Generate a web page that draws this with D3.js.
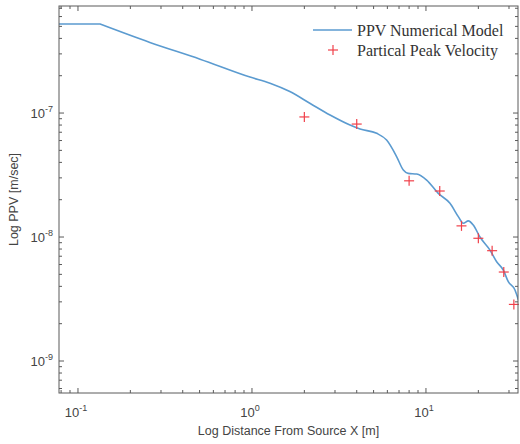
<!DOCTYPE html>
<html>
<head>
<meta charset="utf-8">
<script src="https://cdn.jsdelivr.net/npm/d3@7"></script>
<style>
  html, body { margin: 0; padding: 0; background: #fff; }
  svg { display: block; }
</style>
</head>
<body>
<svg id="chart" width="520" height="444"></svg>
<script>
// Numerical PPV model curve (distance in m, PPV in m/s)
const modelX = [0.0778, 0.134, 0.259, 0.503, 0.974, 1.27, 1.65, 2.15, 2.81, 3.66, 4.18, 5.21, 5.94, 6.79, 7.41, 7.91, 8.84, 10.09, 11.77, 13.74, 15.34, 16.38, 17.51, 18.70, 20.43, 23.33, 25.48, 27.82, 29.72, 32.47, 34];
const modelY = [5.22e-7, 5.22e-7, 3.71e-7, 2.72e-7, 1.95e-7, 1.74e-7, 1.49e-7, 1.20e-7, 9.64e-8, 8.0e-8, 7.43e-8, 6.86e-8, 6.05e-8, 4.44e-8, 3.47e-8, 3.26e-8, 3.22e-8, 2.88e-8, 2.25e-8, 1.87e-8, 1.46e-8, 1.29e-8, 1.35e-8, 1.25e-8, 1.00e-8, 7.85e-9, 6.32e-9, 5.42e-9, 4.36e-9, 3.74e-9, 3.10e-9];
// Index of the corner where the flat plateau ends
const plateauEnd = 1;

// Measured peak particle velocities
const peakX = [2, 4, 8, 12, 16, 20, 24, 28, 32];
const peakY = [9.3e-8, 8.15e-8, 2.84e-8, 2.35e-8, 1.23e-8, 9.77e-9, 7.76e-9, 5.22e-9, 2.86e-9];

// Axis limits and decade labels
const xDomain = [0.0778, 33.8];
const yDomain = [5.52e-10, 7.3e-7];
const xTickExps = [-1, 0, 1];
const yTickExps = [-9, -8, -7];

const legendLabels = ["PPV Numerical Model", "Partical Peak Velocity"];
const xLabel = "Log Distance From Source X [m]";
const yLabel = "Log PPV [m/sec]";

const svg = d3.select("#chart");
const box = { left: 59, right: 518, top: 6, bottom: 393 };

const x = d3.scaleLog().domain(xDomain).range([box.left, box.right]);
const y = d3.scaleLog().domain(yDomain).range([box.bottom, box.top]);

const axisColor = "#5a5a5a";
const lineColor = "#5b9bd0";
const markColor = "#f0404a";

// Log ticks: majors at decades, minors at 2..9
function logTicks(domain) {
  const out = [];
  const lo = Math.floor(Math.log10(domain[0])), hi = Math.ceil(Math.log10(domain[1]));
  for (let e = lo; e <= hi; e++) {
    for (let m = 1; m <= 9; m++) {
      const v = m * Math.pow(10, e);
      if (v >= domain[0] * 0.9999 && v <= domain[1] * 1.0001) out.push({ v, major: m === 1 });
    }
  }
  return out;
}

const g = svg.append("g");

svg.append("defs").append("clipPath").attr("id", "plotClip")
  .append("rect")
  .attr("x", box.left).attr("y", box.top)
  .attr("width", box.right - box.left).attr("height", box.bottom - box.top);

// Model curve: flat plateau, a sharp corner, then a smooth decay
const pts = modelX.map((v, i) => [v, modelY[i]]);
const plateau = pts.slice(0, plateauEnd + 1);
const decay = pts.slice(plateauEnd);
const lineLin = d3.line().x(d => x(d[0])).y(d => y(d[1])).curve(d3.curveLinear);
const lineSmooth = d3.line().x(d => x(d[0])).y(d => y(d[1])).curve(d3.curveMonotoneX);
const pathD = lineLin(plateau) + lineSmooth(decay).replace(/^M[^CLM]*/, "");

g.append("path")
  .attr("clip-path", "url(#plotClip)")
  .attr("d", pathD)
  .attr("fill", "none")
  .attr("stroke", lineColor)
  .attr("stroke-width", 1.6)
  .attr("stroke-linejoin", "round");

// Measured points as "+" markers
const ms = 5;
const mk = g.append("g").attr("stroke", markColor).attr("stroke-width", 1.2);
peakX.forEach((px, i) => {
  const cx = x(px), cy = y(peakY[i]);
  mk.append("line").attr("x1", cx - ms).attr("x2", cx + ms).attr("y1", cy).attr("y2", cy);
  mk.append("line").attr("x1", cx).attr("x2", cx).attr("y1", cy - ms).attr("y2", cy + ms);
});

// Axes box with inward ticks on all four sides
const ax = svg.append("g").attr("stroke", axisColor).attr("stroke-width", 1).attr("fill", "none");
ax.append("rect")
  .attr("x", box.left).attr("y", box.top)
  .attr("width", box.right - box.left).attr("height", box.bottom - box.top);

logTicks(xDomain).forEach(t => {
  const px = x(t.v), len = t.major ? 5 : 3;
  ax.append("line").attr("x1", px).attr("x2", px).attr("y1", box.bottom).attr("y2", box.bottom - len);
  ax.append("line").attr("x1", px).attr("x2", px).attr("y1", box.top).attr("y2", box.top + len);
});
logTicks(yDomain).forEach(t => {
  const py = y(t.v), len = t.major ? 5 : 3;
  ax.append("line").attr("x1", box.left).attr("x2", box.left + len).attr("y1", py).attr("y2", py);
  ax.append("line").attr("x1", box.right).attr("x2", box.right - len).attr("y1", py).attr("y2", py);
});

const font = "'Liberation Sans', Arial, Helvetica, sans-serif";
const textColor = "#444";

// Decade tick labels 10^n
xTickExps.forEach(e => {
  const t = svg.append("text")
    .attr("x", x(Math.pow(10, e)) - 2).attr("y", 417)
    .attr("text-anchor", "middle")
    .attr("font-family", font).attr("font-size", 13).attr("fill", textColor);
  t.append("tspan").text("10");
  t.append("tspan").attr("dy", -6).attr("font-size", 9).text(String(e));
});
yTickExps.forEach(e => {
  const t = svg.append("text")
    .attr("x", 53).attr("y", y(Math.pow(10, e)) + 5)
    .attr("text-anchor", "end")
    .attr("font-family", font).attr("font-size", 13).attr("fill", textColor);
  t.append("tspan").text("10");
  t.append("tspan").attr("dy", -6).attr("font-size", 9).text(String(e));
});

// Axis titles
svg.append("text")
  .attr("x", (box.left + box.right) / 2).attr("y", 435)
  .attr("text-anchor", "middle")
  .attr("font-family", font).attr("font-size", 12.5).attr("fill", textColor)
  .text(xLabel);
svg.append("text")
  .attr("transform", `translate(18,${(box.top + box.bottom) / 2}) rotate(-90)`)
  .attr("text-anchor", "middle")
  .attr("font-family", font).attr("font-size", 12.5).attr("fill", textColor)
  .text(yLabel);

// Legend
const lg = svg.append("g");
const serif = "'Liberation Serif', 'Times New Roman', serif";
lg.append("line").attr("x1", 313).attr("x2", 352).attr("y1", 30).attr("y2", 30)
  .attr("stroke", lineColor).attr("stroke-width", 1.6);
lg.append("text").attr("x", 357).attr("y", 35.5)
  .attr("font-family", serif).attr("font-size", 16).attr("fill", "#333")
  .text(legendLabels[0]);
const lx = 333, ly = 50;
lg.append("line").attr("x1", lx - ms).attr("x2", lx + ms).attr("y1", ly).attr("y2", ly)
  .attr("stroke", markColor).attr("stroke-width", 1.2);
lg.append("line").attr("x1", lx).attr("x2", lx).attr("y1", ly - ms).attr("y2", ly + ms)
  .attr("stroke", markColor).attr("stroke-width", 1.2);
lg.append("text").attr("x", 357).attr("y", 55.5)
  .attr("font-family", serif).attr("font-size", 16).attr("fill", "#333")
  .text(legendLabels[1]);
</script>
</body>
</html>
